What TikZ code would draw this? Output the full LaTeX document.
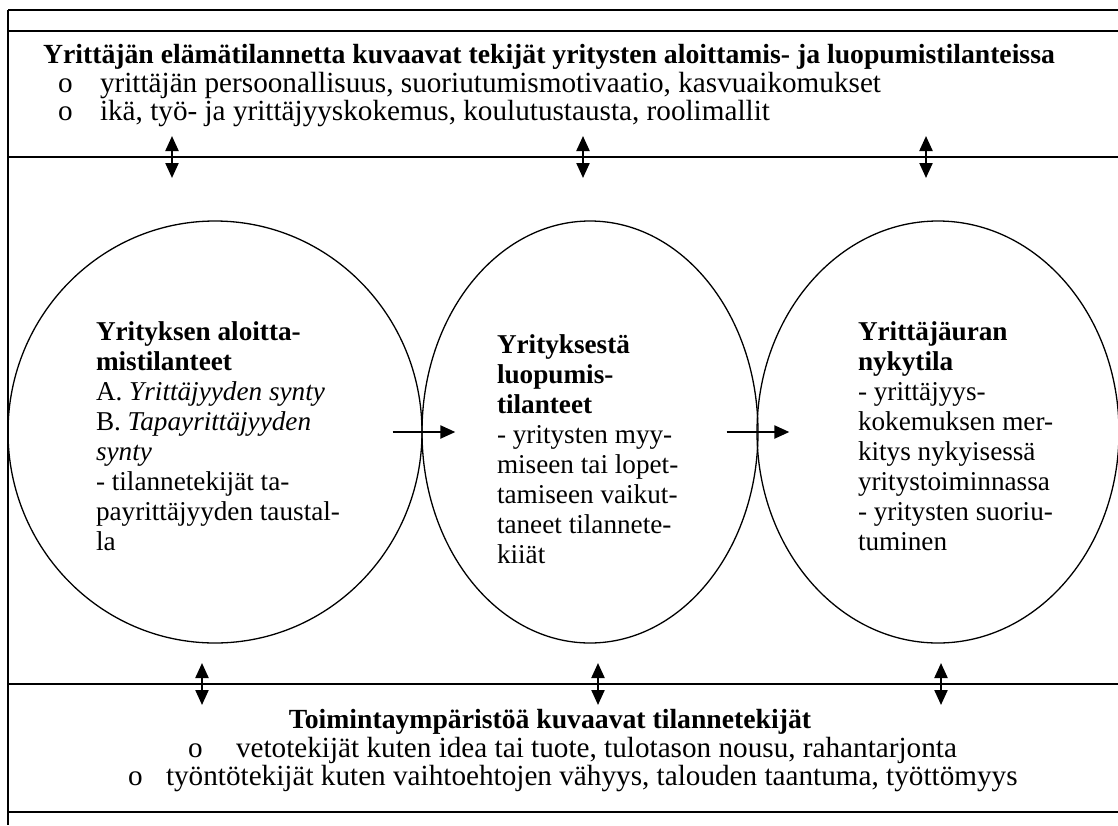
\documentclass[tikz,border=0pt]{standalone}
\usepackage{fontspec}
\setmainfont{Liberation Serif}
\usetikzlibrary{arrows.meta,shapes.geometric}

\begin{document}
\begin{tikzpicture}[x=0.5pt,y=-0.5pt,line width=1pt,
    kupla/.style={draw,ellipse,line width=0.65pt,inner sep=0pt},
    kuplateksti/.style={inner sep=0pt,anchor=north west,align=left,font=\fontsize{13.6}{15}\selectfont},
    rivi/.style={inner sep=0pt,anchor=base west,font=\fontsize{14.6}{14}\selectfont},
    otsikko/.style={inner sep=0pt,anchor=base,font=\fontsize{13.85}{14}\selectfont\bfseries},
    nuoli/.style={-{Triangle[length=7.5pt,width=6.5pt]},line width=1.1pt},
    kaksnuoli/.style={{Triangle[length=7.5pt,width=6.5pt]}-{Triangle[length=7.5pt,width=6.5pt]},line width=1.1pt}]
    \useasboundingbox (0,0) rectangle (1118,825);
    % kehys
    \draw (8,10) -- (8,825);
    \foreach \y in {10,31,157,684,812}
      \draw (8,\y) -- (1118,\y);
    % ylaosa
    \node[otsikko] (yt) at (549,63) {Yrittäjän elämätilannetta kuvaavat tekijät yritysten aloittamis- ja luopumistilanteissa};
    \node[rivi] (yo1) at (57,92) {o};
    \node[rivi] (yr1) at (99,92) {yrittäjän persoonallisuus, suoriutumismotivaatio, kasvuaikomukset};
    \node[rivi] (yo2) at (57,120) {o};
    \node[rivi] (yr2) at (99,120) {ikä, työ- ja yrittäjyyskokemus, koulutustausta, roolimallit};
    % kuplat
    \node[kupla,minimum width=207pt,minimum height=211pt] (aloitus) at (215,432) {};
    \node[kupla,minimum width=168pt,minimum height=211pt] (luopuminen) at (590,432) {};
    \node[kupla,minimum width=181pt,minimum height=211pt] (nykytila) at (938,432) {};
    \node[kuplateksti] (at) at (95,321) {\textbf{Yrityksen aloitta-}\\
      \textbf{mistilanteet}\\
      A. \textit{Yrittäjyyden synty}\\
      B. \textit{Tapayrittäjyyden}\\
      \textit{synty}\\
      - tilannetekijät ta-\\
      payrittäjyyden taustal-\\
      la};
    \node[kuplateksti] (lt) at (496,334) {\textbf{Yrityksestä}\\
      \textbf{luopumis-}\\
      \textbf{tilanteet}\\
      - yritysten myy-\\
      miseen tai lopet-\\
      tamiseen vaikut-\\
      taneet tilannete-\\
      kiiät};
    \node[kuplateksti] (nt) at (857,321) {\textbf{Yrittäjäuran}\\
      \textbf{nykytila}\\
      - yrittäjyys-\\
      kokemuksen mer-\\
      kitys nykyisessä\\
      yritystoiminnassa\\
      - yritysten suoriu-\\
      tuminen};
    \draw[nuoli] ([xshift=-15pt]aloitus.east) -- ([xshift=17pt]luopuminen.west);
    \draw[nuoli] ([xshift=-16pt]luopuminen.east) -- ([xshift=16.5pt]nykytila.west);
    % kaksisuuntaiset nuolet
    \foreach \x/\n in {172/a,583/b,926/c}{
      \coordinate (ya\n) at (\x,136);
      \coordinate (yb\n) at (\x,178);
      \draw[kaksnuoli] (ya\n) -- (yb\n);
    }
    \foreach \x/\n in {202/a,598/b,941/c}{
      \coordinate (aa\n) at (\x,663);
      \coordinate (ab\n) at (\x,705);
      \draw[kaksnuoli] (aa\n) -- (ab\n);
    }
    % alaosa
    \node[otsikko] (aot) at (550,728) {Toimintaympäristöä kuvaavat tilannetekijät};
    \node[rivi] (ao1) at (187,757) {o};
    \node[rivi] (ar1) at (235,757) {vetotekijät kuten idea tai tuote, tulotason nousu, rahantarjonta};
    \node[rivi] (ao2) at (127,785) {o};
    \node[rivi] (ar2) at (165,785) {työntötekijät kuten vaihtoehtojen vähyys, talouden taantuma, työttömyys};
  \end{tikzpicture}
\end{document}
